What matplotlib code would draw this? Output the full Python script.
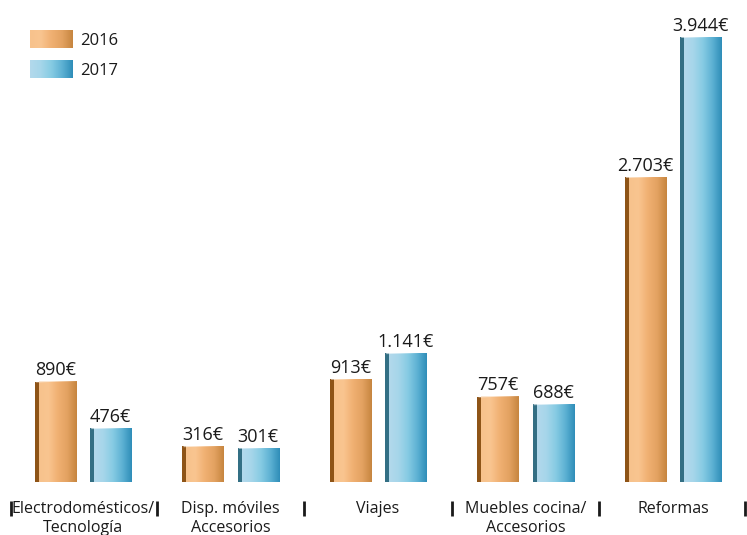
import numpy as np
import matplotlib.pyplot as plt
from matplotlib.colors import LinearSegmentedColormap
from matplotlib.patches import Rectangle

categories = ["Electrodomésticos/\nTecnología", "Disp. móviles\nAccesorios", "Viajes",
              "Muebles cocina/\nAccesorios", "Reformas"]
series_names = ["2016", "2017"]
values_2016 = [890, 316, 913, 757, 2703]
values_2017 = [476, 301, 1141, 688, 3944]
labels_2016 = ["890€", "316€", "913€", "757€", "2.703€"]
labels_2017 = ["476€", "301€", "1.141€", "688€", "3.944€"]

plt.rcParams['font.family'] = ['Open Sans', 'DejaVu Sans']

cmap_or = LinearSegmentedColormap.from_list("or", ["#F7C28C", "#F9C590", "#F0B072", "#E3A261", "#C6853F"])
cmap_bl = LinearSegmentedColormap.from_list("bl", ["#B3D9EC", "#A6D6EA", "#86CBE3", "#5DB1D3", "#2E8DB8"])
side_or = "#8E5417"
side_bl = "#336F84"
grad = np.linspace(0, 1, 256).reshape(1, -1)

fig = plt.figure(figsize=(7.47, 5.35), dpi=100)
W, H = 747, 535
ax = fig.add_axes([9.25 / W, 53 / H, 737.5 / W, 482 / H])
ax.set_xlim(-0.5, 4.5)
ax.set_ylim(0, 482 / 0.1128)
ax.axis('off')

x = np.arange(len(categories))
off = 0.187
bw = 0.278
sw = 0.027

for vals, labs, cmap, side, sgn in [(values_2016, labels_2016, cmap_or, side_or, -1),
                                     (values_2017, labels_2017, cmap_bl, side_bl, 1)]:
    bars = ax.bar(x + sgn * off, vals, width=bw, color='none', edgecolor='none')
    for b, lab in zip(bars, labs):
        x0, w, h = b.get_x(), b.get_width(), b.get_height()
        ax.imshow(grad, cmap=cmap, aspect='auto', extent=(x0 + sw, x0 + w, 0, h), zorder=2)
        ax.add_patch(Rectangle((x0, 0), sw, h, color=side, zorder=3, lw=0))
        ax.plot([x0 + sw * 0.5, x0 + w], [h, h + 12], color='white', alpha=0.6, lw=1.2, zorder=4)
        ax.text(x0 + w / 2, h + 22, lab, ha='center', va='bottom', fontsize=13, color='#1a1a1a')

# category labels and separators
for i, c in enumerate(categories):
    ax.text(i, -165, c, ha='center', va='top', fontsize=11.5, linespacing=1.25,
            color='#1a1a1a', clip_on=False)
sep_y0, sep_y1 = -300, -165
for i in range(len(categories) + 1):
    xs = min(i - 0.5, 4.487)
    xs = max(xs, -0.49)
    ax.plot([xs, xs], [sep_y0, sep_y1], color='#1a1a1a', lw=2, clip_on=False, solid_capstyle='butt')

# legend
for j, (name, cmap) in enumerate(zip(series_names, [cmap_or, cmap_bl])):
    top = 30 + j * 30
    lax = fig.add_axes([30 / W, 1 - (top + 18) / H, 43 / W, 18 / H])
    lax.imshow(grad, cmap=cmap, aspect='auto')
    lax.axis('off')
    fig.text(80 / W, 1 - (top + 11) / H, name, ha='left', va='center', fontsize=12, color='#1a1a1a')

fig.savefig("out.png", dpi=100)
